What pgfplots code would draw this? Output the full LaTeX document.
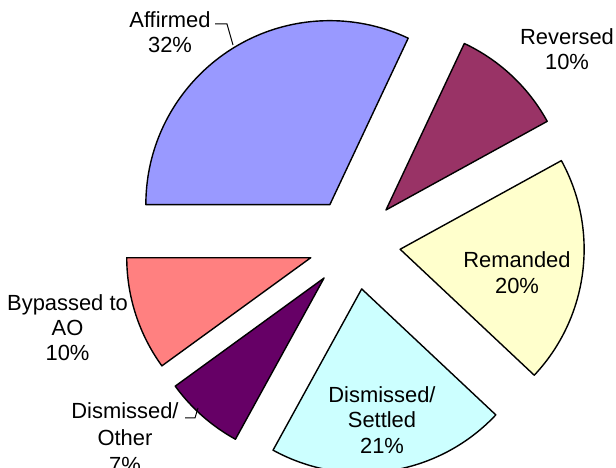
\documentclass[border=0pt]{standalone}
\usepackage{pgfplots}
\usepackage{pgfplotstable}
\pgfplotsset{compat=1.18}
\usepackage{fontspec}
\setmainfont{Liberation Sans}

\definecolor{cAff}{HTML}{9999FF}
\definecolor{cRev}{HTML}{993366}
\definecolor{cRem}{HTML}{FFFFCC}
\definecolor{cDS}{HTML}{CCFFFF}
\definecolor{cDO}{HTML}{660066}
\definecolor{cBy}{HTML}{FF8080}

% share in percent, slices go clockwise from 9 o'clock
\pgfplotstableread{
share color
32 cAff
10 cRev
20 cRem
21 cDS
7  cDO
10 cBy
}\slices

\pgfplotstablegetrowsof{\slices}
\pgfmathtruncatemacro\nlast{\pgfplotsretval-1}

\begin{document}
\begin{tikzpicture}
\clip (0,0) rectangle (616bp,468bp);
\begin{axis}[
    hide axis,
    x=1bp, y=1bp,
    xmin=0, xmax=616,
    ymin=0, ymax=468,
    clip=false,
]
\gdef\cum{0}
\pgfplotsforeachungrouped \i in {0,...,\nlast}{
    \pgfplotstablegetelem{\i}{share}\of\slices \let\sh\pgfplotsretval
    \pgfplotstablegetelem{\i}{color}\of\slices \let\co\pgfplotsretval
    \pgfmathsetmacro\astart{180-3.6*\cum}
    \pgfmathsetmacro\aend{\astart-3.6*\sh}
    \pgfmathsetmacro\amid{\astart-1.8*\sh}
    \pgfmathsetmacro\vx{354.5+46*cos(\amid)}
    \pgfmathsetmacro\vy{224.5+46*sin(\amid)}
    \pgfmathsetmacro\newcum{\cum+\sh}
    \xdef\cum{\newcum}
    \edef\doslice{\noexpand\filldraw[fill=\co, draw=black, line width=1.4bp, line join=round]
        (axis cs:\vx,\vy) -- ++(\astart:184bp)
        arc[start angle=\astart, end angle=\aend, radius=184bp] -- cycle;}
    \doslice
}

\begin{scope}[every node/.style={anchor=base, font=\fontsize{22}{25}\selectfont, inner sep=0pt}]
\node at (axis cs:170,440) {Affirmed};
\node at (axis cs:170,415) {32\%};
\node at (axis cs:567,423) {Reversed};
\node at (axis cs:567,398) {10\%};
\node at (axis cs:517,201) {Remanded};
\node at (axis cs:517,175) {20\%};
\node at (axis cs:382,66) {Dismissed/};
\node at (axis cs:382,41) {Settled};
\node at (axis cs:382,15) {21\%};
\node at (axis cs:67.5,158) {Bypassed to};
\node at (axis cs:67.5,133) {AO};
\node at (axis cs:67.5,108) {10\%};
\node at (axis cs:125,50) {Dismissed/};
\node at (axis cs:125,23) {Other};
\node at (axis cs:125,-4) {7\%};
\end{scope}

\draw[line width=1bp] (axis cs:215,444) -- (axis cs:227,444) -- (axis cs:233,423);
\draw[line width=1bp] (axis cs:185,50) -- (axis cs:195,50) -- (axis cs:198,60);
\end{axis}
\end{tikzpicture}
\end{document}
